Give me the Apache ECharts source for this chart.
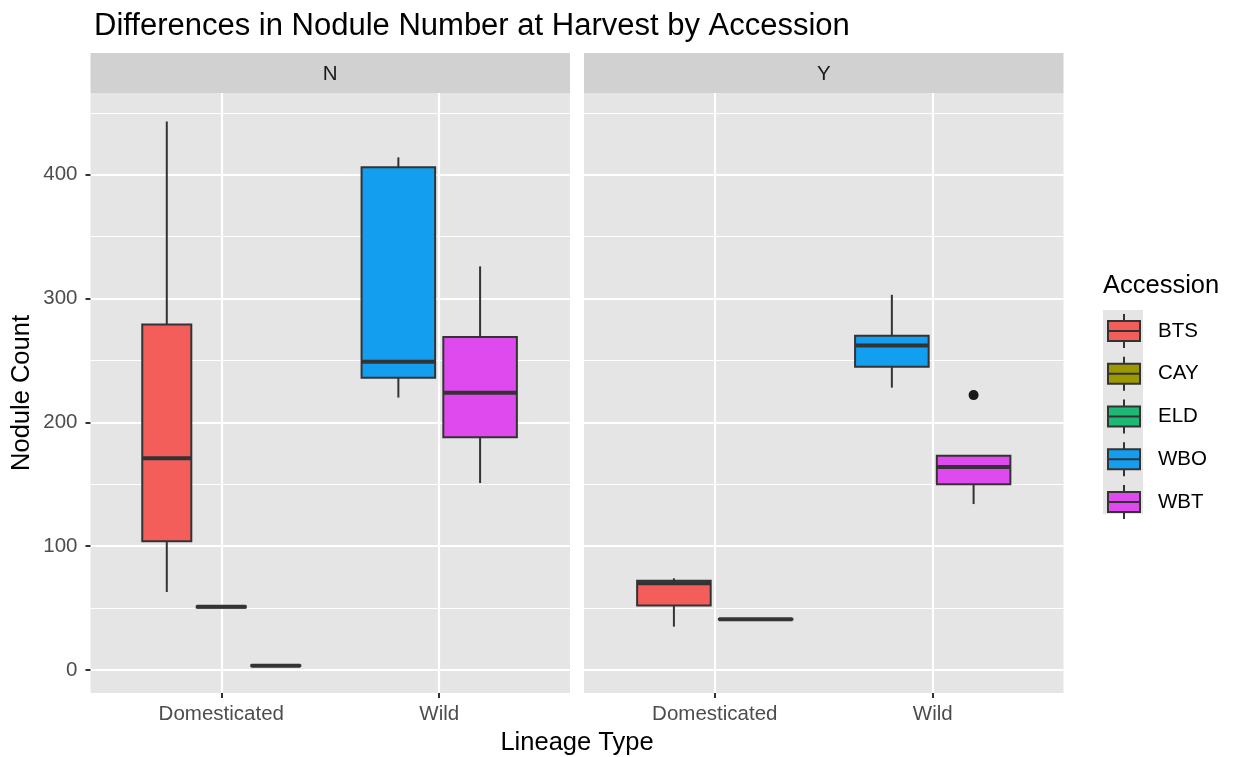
<!DOCTYPE html>
<html>
<head>
<meta charset="utf-8">
<script src="https://cdn.jsdelivr.net/npm/echarts@6/dist/echarts.min.js"></script>
<style>
html,body{margin:0;padding:0;background:#fff;}
#chart{width:1238px;height:757px;}
</style>
</head>
<body>
<div id="chart"></div>
<script>
// ---------------- data ----------------
const panels = ['N', 'Y'];
const lineageTypes = ['Domesticated', 'Wild'];
const accessions = ['BTS', 'CAY', 'ELD', 'WBO', 'WBT'];
const yMajorTicks = [0, 100, 200, 300, 400];
const yMinorTicks = [50, 150, 250, 350, 450];
// [lineage, accession, lower whisker, Q1, median, Q3, upper whisker]
const boxesN = [
  ['Domesticated', 'BTS', 63, 104, 171, 279, 443],
  ['Domesticated', 'CAY', 50, 50.5, 51, 51.5, 52],
  ['Domesticated', 'ELD', 3, 3.2, 3.5, 3.8, 4],
  ['Wild', 'WBO', 220, 236, 249, 406, 414],
  ['Wild', 'WBT', 151, 188, 224, 269, 326]
];
const boxesY = [
  ['Domesticated', 'BTS', 35, 52, 70, 72, 74],
  ['Domesticated', 'CAY', 40.5, 40.8, 41, 41.2, 41.5],
  ['Wild', 'WBO', 228, 245, 262, 270, 303],
  ['Wild', 'WBT', 134, 150, 164, 173, 173]
];
// [lineage, accession, value]
const outliersN = [];
const outliersY = [['Wild', 'WBT', 222]];

// ---------------- style / layout ----------------
const accColors = {BTS: '#F35E5A', CAY: '#9C9800', ELD: '#1DB874', WBO: '#139EEF', WBT: '#DF4AEE'};
const FONT = '"Liberation Sans", Arial, Helvetica, sans-serif';
const PANEL_BG = '#E5E5E5';
const STRIP_BG = '#D1D1D1';
const LINE = '#333333';
const gridTop = 93, gridHeight = 600;
const gridLefts = [90.5, 584];
const gridWidth = 479.5;
const yMin = -18.6, yMax = 466;
const dodgeWidth = 0.75;

function dodge(boxes) {
  // position_dodge2-like: split dodgeWidth among boxes present in the same lineage
  const out = [];
  lineageTypes.forEach((lin, li) => {
    const group = boxes.filter(b => b[0] === lin)
      .sort((a, b) => accessions.indexOf(a[1]) - accessions.indexOf(b[1]));
    const n = group.length;
    const slot = dodgeWidth / n;
    group.forEach((b, i) => {
      const x = (li + 1) - dodgeWidth / 2 + slot * (i + 0.5);
      out.push({acc: b[1], lin: lin, x: x, w: slot * 0.9, stats: b.slice(2)});
    });
  });
  return out;
}

function renderBox(params, api) {
  const x = api.value(0);
  const w = api.value(6);
  const lo = api.coord([x, api.value(1)]);
  const q1 = api.coord([x, api.value(2)]);
  const md = api.coord([x, api.value(3)]);
  const q3 = api.coord([x, api.value(4)]);
  const hi = api.coord([x, api.value(5)]);
  const half = api.size([w, 0])[0] / 2;
  const color = api.visual('color');
  return {
    type: 'group',
    children: [
      {type: 'line', shape: {x1: hi[0], y1: hi[1], x2: q3[0], y2: q3[1]}, style: {stroke: LINE, lineWidth: 2}},
      {type: 'line', shape: {x1: q1[0], y1: q1[1], x2: lo[0], y2: lo[1]}, style: {stroke: LINE, lineWidth: 2}},
      {type: 'rect', shape: {x: q3[0] - half, y: q3[1], width: half * 2, height: q1[1] - q3[1]},
        style: {fill: color, stroke: LINE, lineWidth: 2}},
      {type: 'line', shape: {x1: md[0] - half, y1: md[1], x2: md[0] + half, y2: md[1]},
        style: {stroke: LINE, lineWidth: 4, lineCap: 'butt'}}
    ]
  };
}

const series = [];
[boxesN, boxesY].forEach((boxes, pi) => {
  const placed = dodge(boxes);
  placed.forEach(p => {
    series.push({
      type: 'custom',
      name: p.acc,
      xAxisIndex: pi,
      yAxisIndex: pi * 2,
      itemStyle: {color: accColors[p.acc]},
      renderItem: renderBox,
      encode: {x: 0, y: [1, 2, 3, 4, 5]},
      data: [[p.x].concat(p.stats).concat([p.w])],
      z: 3
    });
  });
  const outs = pi === 0 ? outliersN : outliersY;
  const outData = outs.map(o => {
    const p = placed.find(q => q.lin === o[0] && q.acc === o[1]);
    return [p.x, o[2]];
  });
  if (outData.length) {
    series.push({
      type: 'scatter', xAxisIndex: pi, yAxisIndex: pi * 2,
      symbol: 'circle', symbolSize: 10,
      itemStyle: {color: '#1A1A1A', opacity: 1}, data: outData, z: 4, silent: true
    });
  }
});

const grids = gridLefts.map(l => ({
  left: l, top: gridTop, width: gridWidth, height: gridHeight,
  show: true, backgroundColor: PANEL_BG, borderWidth: 0, containLabel: false
}));

const xAxes = panels.map((p, pi) => ({
  type: 'value', gridIndex: pi, min: 0.4, max: 2.6, position: 'bottom',
  axisLine: {show: false, onZero: false},
  axisTick: {show: true, inside: false, customValues: [1, 2], length: 5, lineStyle: {color: LINE, width: 2}},
  axisLabel: {show: true, customValues: [1, 2], formatter: v => lineageTypes[Math.round(v) - 1],
    color: '#4D4D4D', fontSize: 20.5, fontFamily: FONT, margin: 11},
  splitLine: {show: true, lineStyle: {color: '#FFFFFF', width: 2.2}},
  minorSplitLine: {show: false}
}));

const yAxes = [];
panels.forEach((p, pi) => {
  yAxes.push({
    type: 'value', gridIndex: pi, min: yMin, max: yMax, position: 'left',
    axisLine: {show: false, onZero: false},
    axisTick: {show: pi === 0, inside: false, customValues: yMajorTicks, length: 5, lineStyle: {color: LINE, width: 2}},
    axisLabel: {show: pi === 0, customValues: yMajorTicks, color: '#4D4D4D', fontSize: 20.5,
      fontFamily: FONT, margin: 13},
    splitLine: {show: true, lineStyle: {color: '#FFFFFF', width: 2.2}},
    z: 1
  });
  yAxes.push({
    type: 'value', gridIndex: pi, min: yMin, max: yMax, position: 'left',
    axisLine: {show: false, onZero: false},
    axisTick: {show: false, customValues: yMinorTicks},
    axisLabel: {show: false, customValues: yMinorTicks},
    splitLine: {show: true, lineStyle: {color: '#FFFFFF', width: 1.1}},
    z: 0
  });
});

const graphics = [];
panels.forEach((p, pi) => {
  graphics.push({type: 'rect', left: gridLefts[pi], top: 53, shape: {width: gridWidth, height: 40},
    style: {fill: STRIP_BG}, silent: true});
  graphics.push({type: 'text', x: gridLefts[pi] + gridWidth / 2, y: 74,
    style: {text: p, fontSize: 20.5, fontFamily: FONT, fill: '#1A1A1A', textAlign: 'center', textVerticalAlign: 'middle'}});
});
graphics.push({type: 'text', x: 22, y: gridTop + gridHeight / 2, rotation: Math.PI / 2,
  style: {text: 'Nodule Count', fontSize: 25.5, fontFamily: FONT, fill: '#000', textAlign: 'center', textVerticalAlign: 'middle'}});
graphics.push({type: 'text', x: (gridLefts[0] + gridLefts[1] + gridWidth) / 2, y: 743,
  style: {text: 'Lineage Type', fontSize: 25.5, fontFamily: FONT, fill: '#000', textAlign: 'center', textVerticalAlign: 'middle'}});
graphics.push({type: 'text', x: 1103, y: 286,
  style: {text: 'Accession', fontSize: 25.5, fontFamily: FONT, fill: '#000', textAlign: 'left', textVerticalAlign: 'middle'}});
graphics.push({type: 'rect', left: 1103, top: 310, shape: {width: 40, height: 204},
  style: {fill: PANEL_BG}, silent: true, z: -10});

const option = {
  animation: false,
  backgroundColor: '#FFFFFF',
  title: {text: 'Differences in Nodule Number at Harvest by Accession', left: 89, top: 6,
    textStyle: {fontSize: 31, fontWeight: 'normal', color: '#000', fontFamily: FONT}},
  grid: grids,
  xAxis: xAxes,
  yAxis: yAxes,
  legend: {
    data: accessions, orient: 'vertical', left: 1107, top: 313, padding: 0,
    itemWidth: 32, itemHeight: 34, itemGap: 6.75, selectedMode: false,
    icon: 'path://M16,0L16,7M0,7L32,7L32,27L0,27ZM0,17L32,17M16,27L16,34',
    itemStyle: {borderColor: LINE, borderWidth: 2},
    textStyle: {fontSize: 20.5, fontFamily: FONT, color: '#000', padding: [0, 0, 0, 13]}
  },
  graphic: graphics,
  series: series
};

const chart = echarts.init(document.getElementById('chart'), null, {renderer: 'canvas'});
chart.setOption(option);
</script>
</body>
</html>
